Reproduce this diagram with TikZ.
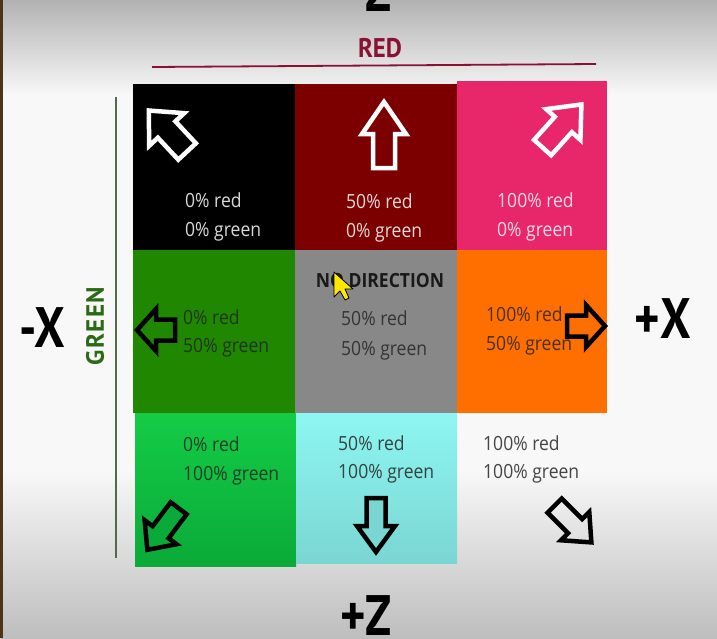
\documentclass[tikz,border=0pt]{standalone}
\usepackage{fontspec}
\setmainfont[FakeStretch=0.9]{Open Sans}
\newfontfamily\headfont{PT Sans}
\definecolor{bgtop}{HTML}{B2B2B2}
\definecolor{bgmid}{HTML}{F8F8F8}
\definecolor{bgbot}{HTML}{BEBEBE}
\definecolor{cblack}{HTML}{000000}
\definecolor{cdred}{HTML}{7D0000}
\definecolor{cpink}{HTML}{E8266A}
\definecolor{cdgreen}{HTML}{1F8800}
\definecolor{cgray}{HTML}{888888}
\definecolor{corange}{HTML}{FF6F00}
\definecolor{cbgreentop}{HTML}{14CC46}
\definecolor{cbgreenbot}{HTML}{0AAA38}
\definecolor{ccyantop}{HTML}{8EF6F2}
\definecolor{ccyanbot}{HTML}{7AD6D2}
\definecolor{redlbl}{HTML}{8A1034}
\definecolor{greenlbl}{HTML}{2A6A14}
\definecolor{gline}{HTML}{506A4A}
\tikzset{
  lbl/.style={anchor=base west, inner sep=0pt, font=\fontsize{19.5}{22}\selectfont},
  lightlbl/.style={lbl, text=white!92!black, text opacity=0.92},
  darklbl/.style={lbl, text=black!85, text opacity=0.85},
  axislbl/.style={anchor=base, inner sep=0pt, font=\headfont\bfseries\fontsize{57}{60}\selectfont},
  arrowline/.style={line width=4.5pt, line join=miter, miter limit=10},
}
\newcommand\blockarrow[8]{% cx cy angle L H W stroke fill
  \draw[arrowline, draw=#7, fill=#8, shift={(#1,#2)}, rotate=#3]
    (-#4/2,-#6/2) -- (#4/2-#5,-#6/2) -- (#4/2-#5,-#6) -- (#4/2,0)
    -- (#4/2-#5,#6) -- (#4/2-#5,#6/2) -- (-#4/2,#6/2) -- cycle;}
\begin{document}
\begin{tikzpicture}[x=1pt,y=-1pt]
\useasboundingbox (0,0) rectangle (717,638);
% background
\shade[top color=bgtop, bottom color=bgmid] (0,0) rectangle (717,95);
\fill[bgmid] (0,95) rectangle (717,470);
\shade[top color=bgmid, bottom color=bgbot] (0,470) rectangle (717,638);
\fill[black!60!brown] (0,0) rectangle (2.5,638);
% cells
\fill[cblack] (133,84) rectangle (295,250);
\fill[cdred] (295,84) rectangle (457,250);
\fill[cpink] (457,81) rectangle (607,250);
\fill[cdgreen] (133,250) rectangle (295,413);
\fill[cgray] (295,250) rectangle (457,413);
\fill[corange] (457,250) rectangle (607,413);
\shade[top color=cbgreentop, bottom color=cbgreenbot] (135,413) rectangle (296,566);
\shade[top color=ccyantop, bottom color=ccyanbot] (296,413) rectangle (457,563);
% axis decorations
\coordinate (rl1) at (152,67);
\coordinate (rl2) at (596,64);
\draw[redlbl, line width=1.8pt] (rl1) -- (rl2);
\coordinate (gl1) at (116,97);
\coordinate (gl2) at (116,558);
\draw[gline, line width=2pt] (gl1) -- (gl2);
\node[anchor=base, inner sep=0pt, text=redlbl, font=\headfont\bfseries\fontsize{27}{30}\selectfont] (red) at (380,57) {\scalebox{0.92}[1]{RED}};
\node[inner sep=0pt, text=greenlbl, rotate=90, font=\headfont\bfseries\fontsize{25}{28}\selectfont] (green) at (95,326) {G\kern1.5pt R\kern1.5pt E\kern1.5pt E\kern1.5pt N};
\node[axislbl] (zm) at (379,11) {\scalebox{0.85}[1]{Z}};
\node[axislbl] (xm) at (42,347) {\scalebox{0.85}[1]{-X}};
\node[axislbl] (xp) at (663,338) {\scalebox{0.85}[1]{+X}};
\node[axislbl] (zp) at (366,635) {\scalebox{0.85}[1]{+Z}};
% arrows
\blockarrow{168}{131}{133}{56}{26}{24}{white}{cblack}
\blockarrow{384}{135}{90}{66}{32}{22}{white}{cdred}
\blockarrow{562}{126}{48}{58}{27}{23}{white}{cpink}
\blockarrow{156}{330}{180}{38}{19}{21}{black}{cdgreen}
\blockarrow{586}{326}{0}{38}{19}{21}{black}{corange}
\blockarrow{163}{529}{233}{52}{22}{20}{black}{cbgreenbot}
\blockarrow{376}{525}{270}{54}{26}{19}{black}{ccyanbot}
\blockarrow{573}{524}{-45}{52}{23}{20}{black}{none}
% texts
\node[lightlbl] (t11a) at (185,207) {0\% red};
\node[lightlbl] (t11b) at (185,236) {0\% green};
\node[lightlbl] (t12a) at (346,208) {50\% red};
\node[lightlbl] (t12b) at (346,237) {0\% green};
\node[lightlbl] (t13a) at (497,207) {100\% red};
\node[lightlbl] (t13b) at (497,236) {0\% green};
\node[darklbl] (t21a) at (183,324) {0\% red};
\node[darklbl] (t21b) at (183,352) {50\% green};
\node[anchor=base, inner sep=0pt, text=black!90, font=\bfseries\fontsize{19.5}{22}\selectfont] (nodir) at (380,287) {NO DIRECTION};
\node[darklbl] (t22a) at (341,325) {50\% red};
\node[darklbl] (t22b) at (341,355) {50\% green};
\node[darklbl] (t23a) at (486,321) {100\% red};
\node[darklbl] (t23b) at (486,350) {50\% green};
\node[darklbl] (t31a) at (183,451) {0\% red};
\node[darklbl] (t31b) at (183,480) {100\% green};
\node[darklbl] (t32a) at (338,450) {50\% red};
\node[darklbl] (t32b) at (338,478) {100\% green};
\node[darklbl] (t33a) at (483,450) {100\% red};
\node[darklbl] (t33b) at (483,478) {100\% green};
% mouse cursor
\draw[fill=yellow!90!orange, draw=black, line width=0.8pt, line join=round]
  (334,272) -- (334,297) -- (340,291) -- (345,300) -- (349,298) -- (345,289) -- (353,289) -- cycle;
\end{tikzpicture}
\end{document}
